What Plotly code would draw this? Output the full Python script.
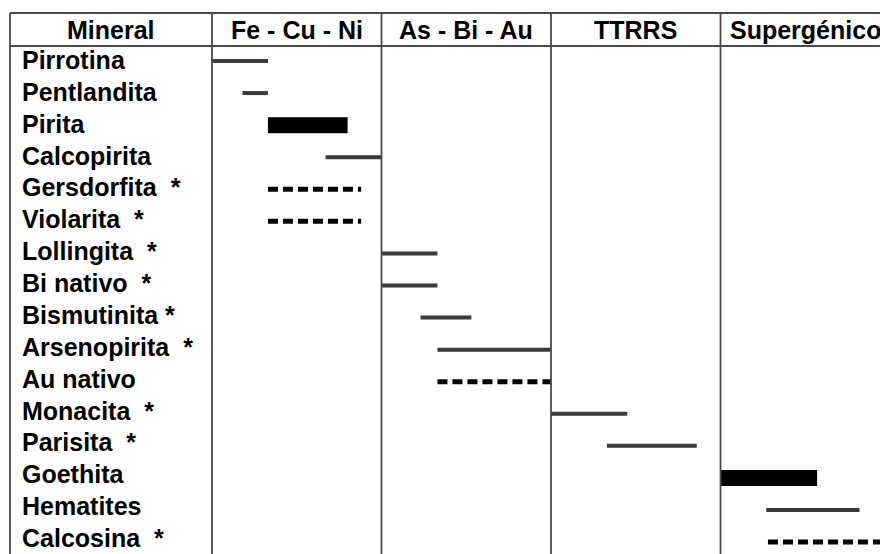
import plotly.graph_objects as go

# ---- data ----
stages = ["Fe - Cu - Ni", "As - Bi - Au", "TTRRS", "Supergénico"]
minerals = ["Pirrotina", "Pentlandita", "Pirita", "Calcopirita", "Gersdorfita  *",
            "Violarita  *", "Lollingita  *", "Bi nativo  *", "Bismutinita *",
            "Arsenopirita  *", "Au nativo", "Monacita  *", "Parisita  *",
            "Goethita", "Hematites", "Calcosina  *"]
start = [0.00, 0.18, 0.33, 0.67, 0.33, 0.33, 1.00, 1.00, 1.23, 1.33, 1.33, 2.00, 2.33, 3.00, 3.27, 3.28]
end   = [0.33, 0.33, 0.80, 1.00, 0.88, 0.88, 1.33, 1.33, 1.53, 2.00, 2.00, 2.45, 2.86, 3.57, 3.82, 4.00]
abundance = ["minor", "minor", "major", "minor", "possible", "possible", "minor", "minor",
             "minor", "minor", "possible", "minor", "minor", "major", "minor", "possible"]

# ---- geometry (pixel mapping) ----
W, H = 880, 554
PX_PER_UNIT = 169.5
X_ORIGIN = 212          # pixel of stage 0
ROW0 = 61               # pixel of first row
ROW_STEP = 32.07
LABEL_STEP = 31.87

def xu(px):
    return (px - X_ORIGIN) / PX_PER_UNIT

def yu(py):
    return (py - ROW0) / ROW_STEP

styles = {
    "minor": dict(color="#3a3a3a", width=4, dash="solid"),
    "major": dict(color="#000000", width=16, dash="solid"),
    "possible": dict(color="#000000", width=5, dash="10px,5px"),
}

fig = go.Figure()
for i, (m, s, e, a) in enumerate(zip(minerals, start, end, abundance)):
    fig.add_trace(go.Scatter(x=[s, e], y=[i, i], mode="lines",
                             line=styles[a], showlegend=False, hoverinfo="skip"))

font = dict(family="Liberation Sans, Arial, sans-serif", size=25, color="#000000")
annotations = []
for i, m in enumerate(minerals):
    annotations.append(dict(x=xu(20), y=yu(ROW0 - 1 + LABEL_STEP * i), xref="x", yref="y",
                            text="<b>%s</b>" % m, showarrow=False,
                            xanchor="left", yanchor="middle", font=font))
annotations.append(dict(x=xu(111), y=yu(30), xref="x", yref="y", text="<b>Mineral</b>",
                        showarrow=False, xanchor="center", yanchor="middle", font=font))
for k, st in enumerate(stages):
    annotations.append(dict(x=k + 0.5, y=yu(30), xref="x", yref="y", text="<b>%s</b>" % st,
                            showarrow=False, xanchor="center", yanchor="middle", font=font))

line_style = dict(color="#4a4a4a", width=1.8)
shapes = []
top = yu(13)
hdr = yu(46)
bottom = yu(600)
left = xu(10)
right = xu(900)
shapes.append(dict(type="line", xref="x", yref="y", x0=left, x1=right, y0=top, y1=top, line=line_style))
shapes.append(dict(type="line", xref="x", yref="y", x0=left, x1=right, y0=hdr, y1=hdr, line=line_style))
shapes.append(dict(type="line", xref="x", yref="y", x0=left, x1=left, y0=top, y1=bottom, line=line_style))
for k in range(len(stages)):
    shapes.append(dict(type="line", xref="x", yref="y", x0=k, x1=k, y0=top, y1=bottom, line=line_style))

fig.update_layout(
    width=W, height=H,
    margin=dict(l=0, r=0, t=0, b=0),
    paper_bgcolor="white", plot_bgcolor="white",
    xaxis=dict(range=[xu(0), xu(W)], visible=False, fixedrange=True),
    yaxis=dict(range=[yu(H), yu(0)], visible=False, fixedrange=True),
    annotations=annotations, shapes=shapes,
)
fig.write_html("out.html",
               config={"displayModeBar": False},
               post_script="document.body.style.margin='0';document.body.style.overflow='hidden';")
